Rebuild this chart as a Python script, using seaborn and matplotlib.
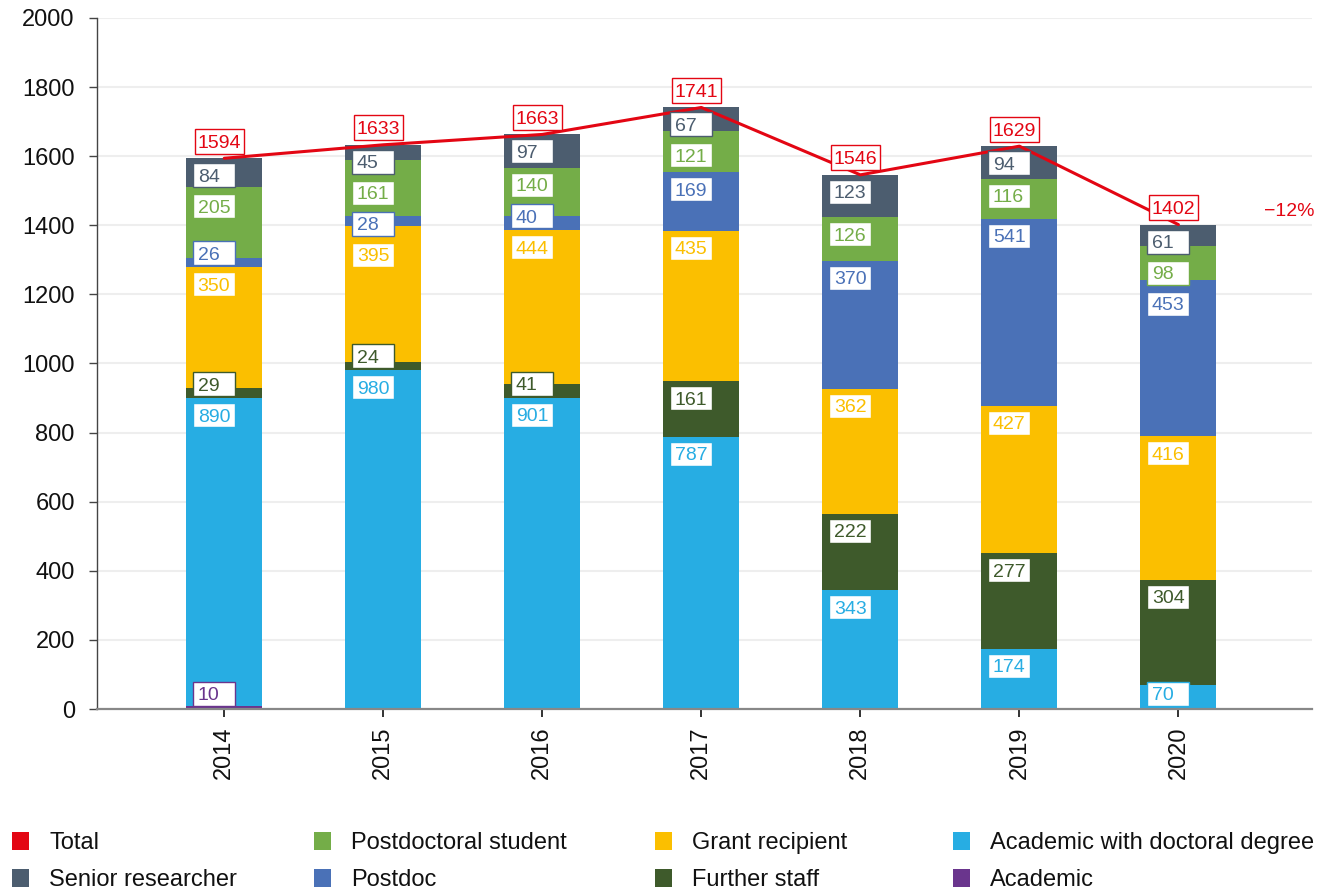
import numpy as np
import matplotlib
matplotlib.use("Agg")
import matplotlib.pyplot as plt
from matplotlib.patches import Patch, Rectangle
import seaborn as sns

# Staff counts per year, one list per staff category (stacked bottom to top)
years = ["2014", "2015", "2016", "2017", "2018", "2019", "2020"]
academic = [10, 0, 0, 1, 0, 0, 0]
academic_doctoral = [890, 980, 901, 787, 343, 174, 70]
further_staff = [29, 24, 41, 161, 222, 277, 304]
grant_recipient = [350, 395, 444, 435, 362, 427, 416]
postdoc = [26, 28, 40, 169, 370, 541, 453]
postdoctoral_student = [205, 161, 140, 121, 126, 116, 98]
senior_researcher = [84, 45, 97, 67, 123, 94, 61]
totals = [1594, 1633, 1663, 1741, 1546, 1629, 1402]

series_names = ["Academic", "Academic with doctoral degree", "Further staff",
                "Grant recipient", "Postdoc", "Postdoctoral student",
                "Senior researcher"]
series_values = [academic, academic_doctoral, further_staff, grant_recipient,
                 postdoc, postdoctoral_student, senior_researcher]
series_colors = ["#6A358D", "#27ADE3", "#3E5A2B", "#FBBF00", "#4A71B7",
                 "#74AD48", "#4C5D6F"]
total_color = "#E30613"

sns.set_style("white")
plt.rcParams["font.family"] = ["Liberation Sans", "DejaVu Sans"]

W, H = 1319, 890
fig = plt.figure(figsize=(W / 100, H / 100), dpi=100)
ax_left, ax_right, ax_top, ax_bottom = 97, 1312, 18, 709
ax = fig.add_axes([ax_left / W, (H - ax_bottom) / H,
                   (ax_right - ax_left) / W, (ax_bottom - ax_top) / H])

xlim = (-0.8, 6.84)
ylim = (0, 2000)
px_x = (ax_right - ax_left) / (xlim[1] - xlim[0])   # pixels per x unit
px_y = (ax_bottom - ax_top) / (ylim[1] - ylim[0])   # pixels per y unit

pos = np.arange(len(years))
bar_w = 0.478
stack = np.array(series_values, dtype=float)
cum = stack.cumsum(axis=0)

# stacked bars: draw cumulative heights from the top layer down
for i in reversed(range(len(series_names))):
    sns.barplot(x=pos, y=cum[i], native_scale=True, color=series_colors[i],
                width=bar_w, saturation=1, linewidth=0, ax=ax, zorder=2)

# total line
sns.lineplot(x=pos, y=totals, color=total_color, linewidth=2.2, ax=ax,
             zorder=3)

# segment value labels with simple collision handling
offset = 17 / px_y
gap = 31 / px_y
floor = 15 / px_y
box_w, box_h = 42 / px_x, 24 / px_y
for j in range(len(years)):
    idx = [i for i in range(len(series_names)) if stack[i, j] >= 5]
    ys = []
    prev = -np.inf
    for i in idx:
        y = max(cum[i, j] - offset, prev + gap, floor)
        ys.append(y)
        prev = y
    cap = cum[idx[-1], j] - offset
    for k in reversed(range(len(idx))):
        ys[k] = min(ys[k], cap)
        cap = ys[k] - gap
    for k, i in enumerate(idx):
        x0 = pos[j] - bar_w / 2 + 7 / px_x
        ax.add_patch(Rectangle((x0, ys[k] - box_h / 2), box_w, box_h,
                               facecolor="white", edgecolor=series_colors[i],
                               linewidth=1, zorder=4))
        ax.text(x0 + 4.5 / px_x, ys[k], f"{int(stack[i, j])}",
                color=series_colors[i], fontsize=14, ha="left",
                va="center_baseline", zorder=5)

# total labels
tw, th = 49 / px_x, 25 / px_y
for j, t in enumerate(totals):
    yc = t + 17 / px_y
    ax.add_patch(Rectangle((pos[j] - 0.03 - tw / 2, yc - th / 2), tw, th,
                           facecolor="white", edgecolor=total_color,
                           linewidth=1, zorder=4))
    ax.text(pos[j] - 0.03, yc, f"{t}", color=total_color, fontsize=14,
            ha="center", va="center_baseline", zorder=5)

change = round((totals[-1] - totals[0]) / totals[0] * 100)
ax.text(pos[-1] + 0.70, totals[-1] + 45, f"\u2212{abs(change)}%",
        color=total_color, fontsize=14, ha="center", va="center_baseline")

# axes styling
ax.set_xlim(*xlim)
ax.set_ylim(*ylim)
ax.set_yticks(np.arange(0, 2001, 200))
ax.set_xticks(pos, years)
ax.set_xlabel("")
ax.set_ylabel("")
ax.yaxis.grid(True, color="#EEEEEE", linewidth=1.5)
ax.xaxis.grid(False)
ax.set_axisbelow(True)
for s in ("top", "right"):
    ax.spines[s].set_visible(False)
ax.spines["left"].set_color("#444444")
ax.spines["left"].set_linewidth(1)
ax.spines["bottom"].set_color("#888888")
ax.spines["bottom"].set_linewidth(1.6)
ax.spines["bottom"].set_zorder(6)
ax.tick_params(axis="y", left=True, length=6, width=1, color="#444444",
               pad=10, labelsize=17, labelcolor="#111111")
ax.tick_params(axis="x", bottom=True, length=5.5, width=1.2, color="#111111",
               pad=7, labelsize=17, labelrotation=90, labelcolor="#111111")

# legend in four columns of two entries
legend_cols = [
    [("Total", total_color), ("Senior researcher", series_colors[6])],
    [("Postdoctoral student", series_colors[5]), ("Postdoc", series_colors[4])],
    [("Grant recipient", series_colors[3]), ("Further staff", series_colors[2])],
    [("Academic with doctoral degree", series_colors[1]),
     ("Academic", series_colors[0])],
]
col_x = [12, 314, 655, 953]
for cx, entries in zip(col_x, legend_cols):
    handles = [Patch(facecolor=c, edgecolor="none", label=n) for n, c in entries]
    fig.legend(handles=handles, loc="upper left",
               bbox_to_anchor=(cx / W, 1 - 832 / H), frameon=False,
               fontsize=17, handlelength=0.72, handleheight=0.8,
               handletextpad=0.85, labelspacing=0.62, borderpad=0,
               borderaxespad=0, labelcolor="#111111")

fig.savefig("out.png", dpi=100)
